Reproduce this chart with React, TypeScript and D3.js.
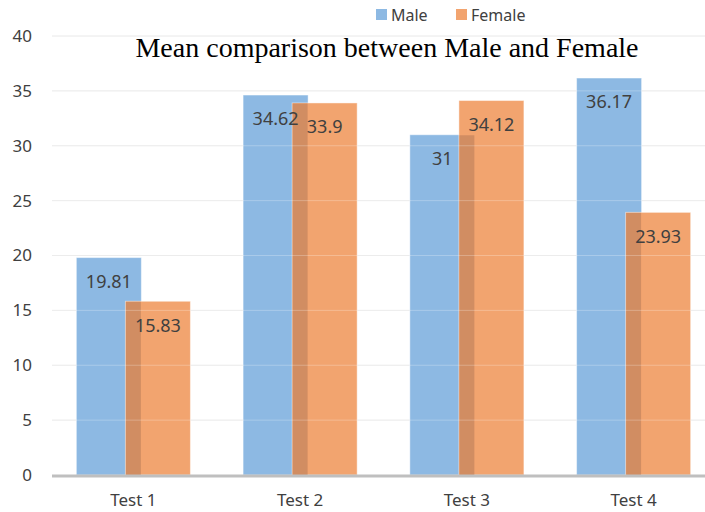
import React, { useEffect, useRef } from 'react';
import * as d3 from 'd3';

const categories = ['Test 1', 'Test 2', 'Test 3', 'Test 4'];
const maleValues = [19.81, 34.62, 31, 36.17];
const femaleValues = [15.83, 33.9, 34.12, 23.93];
const yTicks = [0, 5, 10, 15, 20, 25, 30, 35, 40];
const seriesNames = ['Male', 'Female'];

const W = 705;
const H = 512;
const MALE = '#8db9e3';
const FEMALE = '#f2a46f';
const OVERLAP = '#d18d62';
const TEXT = '#404040';
const FONT = '"Noto Sans", "Open Sans", sans-serif';

export default function App() {
  const ref = useRef<SVGSVGElement>(null);

  useEffect(() => {
    const svg = d3.select(ref.current);
    svg.selectAll('*').remove();

    const y = d3.scaleLinear().domain([0, 40]).range([475, 36]);
    const x = d3.scaleBand<string>()
      .domain(categories)
      .range([50, 717])
      .paddingInner(0.316)
      .paddingOuter(0.158);
    const bw = x.bandwidth();
    const barW = 65;

    // gridlines
    svg.append('g').selectAll('line')
      .data(yTicks.filter(t => t > 0))
      .join('line')
      .attr('x1', 52).attr('x2', W)
      .attr('y1', d => y(d)).attr('y2', d => y(d))
      .attr('stroke', '#e6e6e6').attr('stroke-width', 1);

    // y labels
    svg.append('g').selectAll('text')
      .data(yTicks)
      .join('text')
      .attr('x', 32).attr('y', d => y(d))
      .attr('dy', '0.35em')
      .attr('text-anchor', 'end')
      .attr('font-family', FONT).attr('font-size', 17)
      .attr('fill', TEXT)
      .text(d => d);

    const groups = svg.append('g').selectAll('g')
      .data(categories)
      .join('g')
      .attr('transform', d => `translate(${x(d)},0)`);

    groups.append('rect')
      .attr('x', 0).attr('width', barW)
      .attr('y', (d, i) => y(maleValues[i]))
      .attr('height', (d, i) => y(0) - y(maleValues[i]))
      .attr('fill', MALE)
      .attr('stroke', '#ffffff').attr('stroke-opacity', 0.45);

    groups.append('rect')
      .attr('x', bw - barW).attr('width', barW)
      .attr('y', (d, i) => y(femaleValues[i]))
      .attr('height', (d, i) => y(0) - y(femaleValues[i]))
      .attr('fill', FEMALE)
      .attr('stroke', '#ffffff').attr('stroke-opacity', 0.45);

    // where the two bars overlap
    groups.append('rect')
      .attr('x', bw - barW + 0.5).attr('width', barW - (bw - barW) - 1)
      .attr('y', (d, i) => y(Math.min(maleValues[i], femaleValues[i])) + 0.5)
      .attr('height', (d, i) => y(0) - y(Math.min(maleValues[i], femaleValues[i])) - 0.5)
      .attr('fill', OVERLAP);

    // faint gridlines over bars
    svg.append('g').selectAll('line')
      .data(yTicks.filter(t => t > 0))
      .join('line')
      .attr('x1', 52).attr('x2', W)
      .attr('y1', d => y(d)).attr('y2', d => y(d))
      .attr('stroke', '#ffffff').attr('stroke-opacity', 0.25);

    // data labels
    groups.append('text')
      .attr('x', barW / 2)
      .attr('y', (d, i) => y(maleValues[i]) + 24)
      .attr('dy', '0.35em')
      .attr('text-anchor', 'middle')
      .attr('font-family', FONT).attr('font-size', 18)
      .attr('fill', TEXT)
      .text((d, i) => maleValues[i]);

    groups.append('text')
      .attr('x', bw - barW / 2)
      .attr('y', (d, i) => y(femaleValues[i]) + 24)
      .attr('dy', '0.35em')
      .attr('text-anchor', 'middle')
      .attr('font-family', FONT).attr('font-size', 18)
      .attr('fill', TEXT)
      .text((d, i) => femaleValues[i]);

    // x axis line
    svg.append('line')
      .attr('x1', 52).attr('x2', W)
      .attr('y1', y(0) + 1).attr('y2', y(0) + 1)
      .attr('stroke', '#bfbfbf').attr('stroke-width', 3);

    groups.append('text')
      .attr('x', bw / 2).attr('y', 500)
      .attr('dy', '0.35em')
      .attr('text-anchor', 'middle')
      .attr('font-family', FONT).attr('font-size', 17)
      .attr('fill', TEXT)
      .text(d => d);

    // title
    svg.append('text')
      .attr('x', 387).attr('y', 57)
      .attr('text-anchor', 'middle')
      .attr('font-family', '"Liberation Serif", "Times New Roman", serif')
      .attr('font-size', 28)
      .attr('fill', '#000000')
      .text('Mean comparison between Male and Female');

    // legend
    const legX = [376, 456];
    const leg = svg.append('g').selectAll('g')
      .data(seriesNames)
      .join('g')
      .attr('transform', (d, i) => `translate(${legX[i]},0)`);
    leg.append('rect')
      .attr('x', 0).attr('y', 9).attr('width', 11).attr('height', 11)
      .attr('fill', (d, i) => (i === 0 ? MALE : FEMALE));
    leg.append('text')
      .attr('x', 15).attr('y', 15)
      .attr('dy', '0.35em')
      .attr('font-family', FONT).attr('font-size', 16)
      .attr('fill', TEXT)
      .text(d => d);
  }, []);

  return (
    <svg
      ref={ref}
      width={W}
      height={H}
      style={{ position: 'absolute', left: 0, top: 0, background: '#ffffff' }}
    />
  );
}
